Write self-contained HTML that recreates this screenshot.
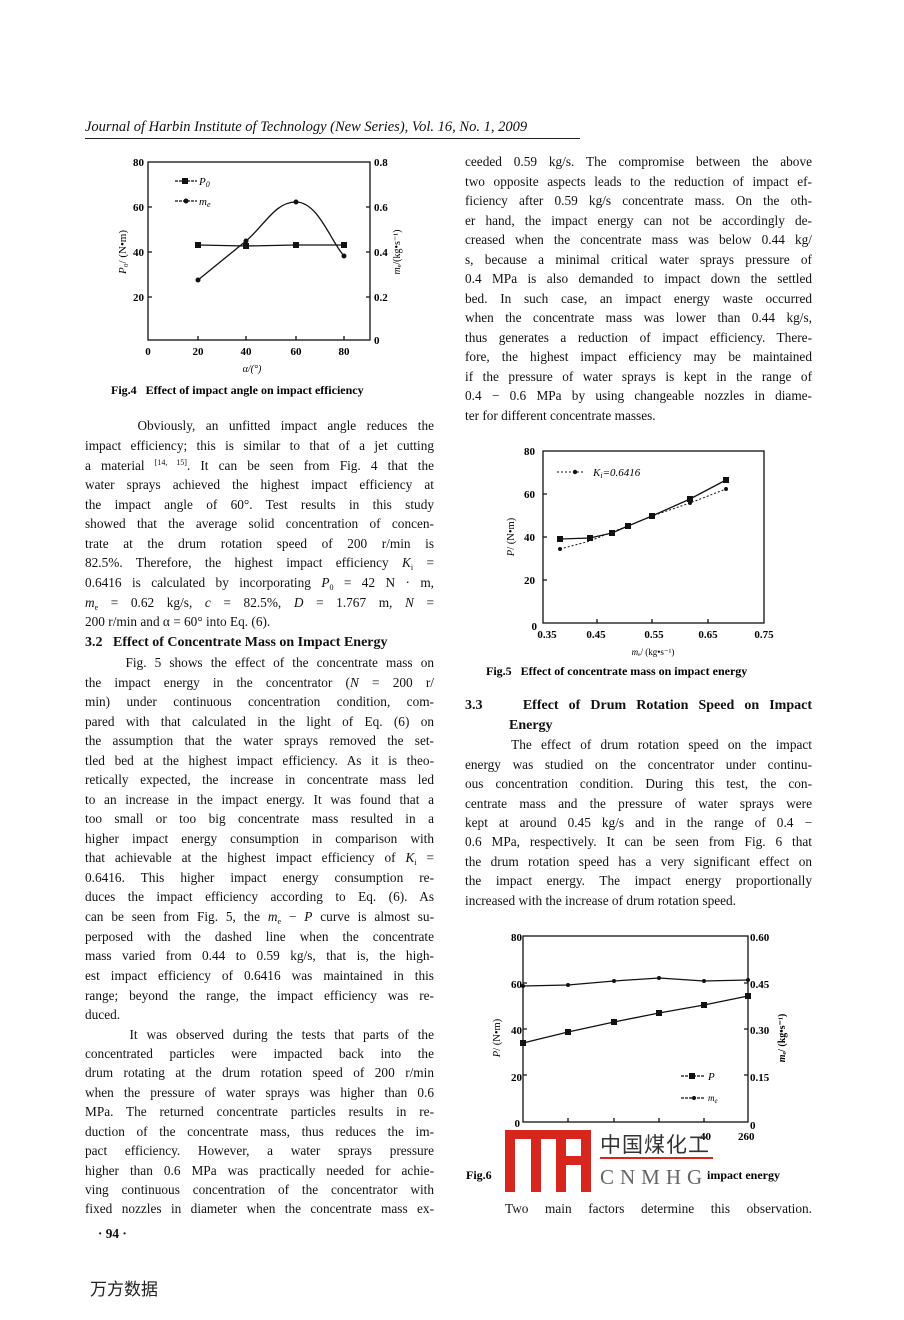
<!DOCTYPE html>
<html><head><meta charset="utf-8"><style>
body{margin:0;background:#fff;}
#p{position:relative;width:904px;height:1320px;overflow:hidden;background:#fff;font-family:"Liberation Serif",serif;color:#111;}
.l{position:absolute;font-size:13.3px;line-height:16px;height:16px;white-space:nowrap;text-align:justify;text-align-last:justify;}
.l sup,.l sub{line-height:0;vertical-align:baseline;position:relative;font-size:8px}
.l sup{top:-5px}
.l sub{top:3px}
.L{left:85px;width:349px}
.R{left:465px;width:347px}
.n{text-align-last:left}
.h{font-weight:bold;font-size:14px}
svg text{font-family:"Liberation Serif",serif;}
</style></head><body><div id="p">
<div style="position:absolute;left:85px;top:119px;font-style:italic;font-size:14.5px;">Journal of Harbin Institute of Technology (New Series), Vol. 16, No. 1, 2009</div>
<div style="position:absolute;left:85px;top:138px;width:495px;border-top:1px solid #222"></div>

<svg style="position:absolute;left:0;top:0" width="904" height="1320">
<!-- Fig 4 -->
<g stroke="#111" fill="none" stroke-width="1.3">
<rect x="148" y="162" width="222" height="178"/>
<path d="M148 207h4M148 252h4M148 297h4M370 207h-4M370 252h-4M370 297h-4M198 340v-4M246 340v-4M296 340v-4M344 340v-4"/>
<polyline points="198,245 246,246 296,245 344,245"/>
<path d="M198,280 C220,262 235,250 246,241 C265,225 275,202 296,202 C318,202 330,240 344,256"/>
<path d="M175 181h22M175 201h22" stroke-dasharray="3 1"/>
</g>
<g fill="#111"><rect x="195" y="242" width="6" height="6"/><rect x="243" y="243" width="6" height="6"/><rect x="293" y="242" width="6" height="6"/><rect x="341" y="242" width="6" height="6"/><rect x="182" y="178" width="6" height="6"/>
<circle cx="198" cy="280" r="2.5"/><circle cx="246" cy="241" r="2.5"/><circle cx="296" cy="202" r="2.5"/><circle cx="344" cy="256" r="2.5"/><circle cx="186" cy="201" r="2.5"/></g>
<g font-size="11" font-weight="bold" text-anchor="end"><text x="144" y="166">80</text><text x="144" y="211">60</text><text x="144" y="256">40</text><text x="144" y="301">20</text></g>
<g font-size="11" font-weight="bold"><text x="374" y="166">0.8</text><text x="374" y="211">0.6</text><text x="374" y="256">0.4</text><text x="374" y="301">0.2</text><text x="374" y="344">0</text></g>
<g font-size="11" font-weight="bold" text-anchor="middle"><text x="148" y="355">0</text><text x="198" y="355">20</text><text x="246" y="355">40</text><text x="296" y="355">60</text><text x="344" y="355">80</text></g>
<text x="252" y="372" font-size="10" font-style="italic" text-anchor="middle">α/(°)</text>
<text x="199" y="185" font-size="11" font-style="italic">P<tspan font-size="8" dy="2">0</tspan></text>
<text x="199" y="205" font-size="11" font-style="italic">m<tspan font-size="8" dy="2">e</tspan></text>
<text transform="translate(126,252) rotate(-90)" font-size="11" text-anchor="middle"><tspan font-style="italic">P</tspan>₀/ (N•m)</text>
<text transform="translate(400,252) rotate(-90)" font-size="10" text-anchor="middle"><tspan font-style="italic">m</tspan>ₑ/(kg•s⁻¹)</text>
<text x="111" y="394" font-size="12" font-weight="bold">Fig.4&#160;&#160; Effect of impact angle on impact efficiency</text>

<!-- Fig 5 -->
<g stroke="#111" fill="none" stroke-width="1.3">
<rect x="543" y="451" width="221" height="172"/>
<path d="M543 494h4M543 537h4M543 580h4M597 623v-4M652 623v-4M708 623v-4"/>
<polyline points="560,539 590,538 612,533 628,526 652,516 690,499 726,480"/>
<polyline points="560,549 590,541 612,532 628,526 652,516 690,503 726,489" stroke-dasharray="2 2" stroke-width="1"/>
<path d="M557 472h28" stroke-dasharray="2 2" stroke-width="1"/>
</g>
<g fill="#111"><rect x="557" y="536" width="6" height="6"/><rect x="587" y="535" width="6" height="6"/><rect x="609" y="530" width="6" height="6"/><rect x="625" y="523" width="6" height="6"/><rect x="649" y="513" width="6" height="6"/><rect x="687" y="496" width="6" height="6"/><rect x="723" y="477" width="6" height="6"/>
<circle cx="560" cy="549" r="2"/><circle cx="726" cy="489" r="2"/><circle cx="690" cy="503" r="2"/><circle cx="575" cy="472" r="2.2"/></g>
<text x="593" y="476" font-size="11" font-style="italic">K<tspan font-size="8" dy="2">i</tspan><tspan dy="-2">=0.6416</tspan></text>
<g font-size="11" font-weight="bold" text-anchor="end"><text x="535" y="455">80</text><text x="535" y="498">60</text><text x="535" y="541">40</text><text x="535" y="584">20</text><text x="537" y="630">0</text></g>
<g font-size="11" font-weight="bold" text-anchor="middle"><text x="547" y="638">0.35</text><text x="596" y="638">0.45</text><text x="654" y="638">0.55</text><text x="708" y="638">0.65</text><text x="764" y="638">0.75</text></g>
<text x="653" y="655" font-size="9" text-anchor="middle"><tspan font-style="italic">m</tspan>ₑ/ (kg•s⁻¹)</text>
<text transform="translate(514,537) rotate(-90)" font-size="10.5" text-anchor="middle"><tspan font-style="italic">P</tspan>/ (N•m)</text>
<text x="486" y="675" font-size="12" font-weight="bold">Fig.5&#160;&#160; Effect of concentrate mass on impact energy</text>

<!-- Fig 6 -->
<g stroke="#111" fill="none" stroke-width="1.3">
<rect x="523" y="936" width="225" height="186"/>
<path d="M523 983h4M523 1029h4M523 1075h4M748 983h-4M748 1029h-4M748 1075h-4M568 1122v-4M614 1122v-4M659 1122v-4M704 1122v-4"/>
<polyline points="523,1043 568,1032 614,1022 659,1013 704,1005 748,996"/>
<polyline points="523,986 568,985 614,981 659,978 704,981 748,980"/>
<path d="M681 1076h24M681 1098h24" stroke-dasharray="3 1"/>
</g>
<g fill="#111"><rect x="520" y="1040" width="6" height="6"/><rect x="565" y="1029" width="6" height="6"/><rect x="611" y="1019" width="6" height="6"/><rect x="656" y="1010" width="6" height="6"/><rect x="701" y="1002" width="6" height="6"/><rect x="745" y="993" width="6" height="6"/><rect x="689" y="1073" width="6" height="6"/>
<circle cx="523" cy="986" r="2"/><circle cx="568" cy="985" r="2"/><circle cx="614" cy="981" r="2"/><circle cx="659" cy="978" r="2"/><circle cx="704" cy="981" r="2"/><circle cx="748" cy="980" r="2"/><circle cx="694" cy="1098" r="2"/></g>
<text x="708" y="1080" font-size="11" font-style="italic">P</text>
<text x="708" y="1101" font-size="9" font-style="italic">m<tspan font-size="7" dy="2">e</tspan></text>
<g font-size="11" font-weight="bold" text-anchor="end"><text x="522" y="941">80</text><text x="522" y="988">60</text><text x="522" y="1034">40</text><text x="522" y="1081">20</text><text x="520" y="1127">0</text></g>
<g font-size="11" font-weight="bold"><text x="750" y="941">0.60</text><text x="750" y="988">0.45</text><text x="750" y="1034">0.30</text><text x="750" y="1081">0.15</text><text x="750" y="1129">0</text><text x="700" y="1140">40</text><text x="738" y="1140">260</text></g>
<text transform="translate(500,1038) rotate(-90)" font-size="10.5" text-anchor="middle"><tspan font-style="italic">P</tspan>/ (N•m)</text>
<text transform="translate(785,1038) rotate(-90)" font-size="10" text-anchor="middle" font-weight="bold"><tspan font-style="italic">m</tspan>ₑ/ (kg•s⁻¹)</text>
<text x="466" y="1179" font-size="12" font-weight="bold">Fig.6</text>
<text x="707" y="1179" font-size="12" font-weight="bold">impact energy</text>
<!-- watermark -->
<g fill="#d7261e"><rect x="505" y="1130" width="86" height="9"/><rect x="505" y="1130" width="10" height="62"/><rect x="531" y="1130" width="10" height="62"/><rect x="556" y="1130" width="10" height="62"/><rect x="581" y="1130" width="10" height="62"/><rect x="556" y="1156" width="35" height="9"/><rect x="600" y="1157" width="113" height="2"/></g>
<text x="600" y="1152" font-size="21" fill="#333" font-family="Noto Sans CJK SC, sans-serif" letter-spacing="1">中国煤化工</text>
<text x="600" y="1184" font-size="21" fill="#666" font-family="Liberation Sans, sans-serif" letter-spacing="6">CNMHG</text>
</svg>

<!-- left column -->
<div class="l L" style="top:418px">&#160;&#160;&#160;&#160;&#160;Obviously, an unfitted impact angle reduces the</div>
<div class="l L" style="top:438px">impact efficiency; this is similar to that of a jet cutting</div>
<div class="l L" style="top:458px">a material <sup>[14, 15]</sup>. It can be seen from Fig. 4 that the</div>
<div class="l L" style="top:477px">water sprays achieved the highest impact efficiency at</div>
<div class="l L" style="top:497px">the impact angle of 60°. Test results in this study</div>
<div class="l L" style="top:516px">showed that the average solid concentration of concen-</div>
<div class="l L" style="top:536px">trate at the drum rotation speed of 200 r/min is</div>
<div class="l L" style="top:555px">82.5%. Therefore, the highest impact efficiency <i>K</i><sub>i</sub> =</div>
<div class="l L" style="top:575px">0.6416 is calculated by incorporating <i>P</i><sub>0</sub> = 42 N · m,</div>
<div class="l L" style="top:595px"><i>m</i><sub>e</sub> = 0.62 kg/s, <i>c</i> = 82.5%, <i>D</i> = 1.767 m, <i>N</i> =</div>
<div class="l L n" style="top:614px">200 r/min and α = 60° into Eq. (6).</div>
<div class="l L n h" style="top:635px">3.2&#160;&#160; Effect of Concentrate Mass on Impact Energy</div>
<div class="l L" style="top:655px">&#160;&#160;&#160;&#160;&#160;Fig. 5 shows the effect of the concentrate mass on</div>
<div class="l L" style="top:675px">the impact energy in the concentrator (<i>N</i> = 200 r/</div>
<div class="l L" style="top:694px">min) under continuous concentration condition, com-</div>
<div class="l L" style="top:714px">pared with that calculated in the light of Eq. (6) on</div>
<div class="l L" style="top:733px">the assumption that the water sprays removed the set-</div>
<div class="l L" style="top:753px">tled bed at the highest impact efficiency. As it is theo-</div>
<div class="l L" style="top:772px">retically expected, the increase in concentrate mass led</div>
<div class="l L" style="top:792px">to an increase in the impact energy. It was found that a</div>
<div class="l L" style="top:811px">too small or too big concentrate mass resulted in a</div>
<div class="l L" style="top:831px">higher impact energy consumption in comparison with</div>
<div class="l L" style="top:850px">that achievable at the highest impact efficiency of <i>K</i><sub>i</sub> =</div>
<div class="l L" style="top:870px">0.6416. This higher impact energy consumption re-</div>
<div class="l L" style="top:889px">duces the impact efficiency according to Eq. (6). As</div>
<div class="l L" style="top:909px">can be seen from Fig. 5, the <i>m</i><sub>e</sub> − <i>P</i> curve is almost su-</div>
<div class="l L" style="top:929px">perposed with the dashed line when the concentrate</div>
<div class="l L" style="top:948px">mass varied from 0.44 to 0.59 kg/s, that is, the high-</div>
<div class="l L" style="top:968px">est impact efficiency of 0.6416 was maintained in this</div>
<div class="l L" style="top:988px">range; beyond the range, the impact efficiency was re-</div>
<div class="l L n" style="top:1007px">duced.</div>
<div class="l L" style="top:1027px">&#160;&#160;&#160;&#160;&#160;It was observed during the tests that parts of the</div>
<div class="l L" style="top:1046px">concentrated particles were impacted back into the</div>
<div class="l L" style="top:1065px">drum rotating at the drum rotation speed of 200 r/min</div>
<div class="l L" style="top:1085px">when the pressure of water sprays was higher than 0.6</div>
<div class="l L" style="top:1104px">MPa. The returned concentrate particles results in re-</div>
<div class="l L" style="top:1124px">duction of the concentrate mass, thus reduces the im-</div>
<div class="l L" style="top:1143px">pact efficiency. However, a water sprays pressure</div>
<div class="l L" style="top:1163px">higher than 0.6 MPa was practically needed for achie-</div>
<div class="l L" style="top:1182px">ving continuous concentration of the concentrator with</div>
<div class="l L" style="top:1201px">fixed nozzles in diameter when the concentrate mass ex-</div>
<div class="l n" style="left:98px;top:1226px;font-weight:bold">· 94 ·</div>
<div style="position:absolute;left:90px;top:1275px;font-size:17px;font-family:'Noto Sans CJK SC',sans-serif;color:#222">万方数据</div>

<!-- right column -->
<div class="l R" style="top:154px">ceeded 0.59 kg/s. The compromise between the above</div>
<div class="l R" style="top:174px">two opposite aspects leads to the reduction of impact ef-</div>
<div class="l R" style="top:193px">ficiency after 0.59 kg/s concentrate mass. On the oth-</div>
<div class="l R" style="top:213px">er hand, the impact energy can not be accordingly de-</div>
<div class="l R" style="top:232px">creased when the concentrate mass was below 0.44 kg/</div>
<div class="l R" style="top:252px">s, because a minimal critical water sprays pressure of</div>
<div class="l R" style="top:271px">0.4 MPa is also demanded to impact down the settled</div>
<div class="l R" style="top:291px">bed. In such case, an impact energy waste occurred</div>
<div class="l R" style="top:310px">when the concentrate mass was lower than 0.44 kg/s,</div>
<div class="l R" style="top:330px">thus generates a reduction of impact efficiency. There-</div>
<div class="l R" style="top:349px">fore, the highest impact efficiency may be maintained</div>
<div class="l R" style="top:369px">if the pressure of water sprays is kept in the range of</div>
<div class="l R" style="top:388px">0.4 − 0.6 MPa by using changeable nozzles in diame-</div>
<div class="l R n" style="top:408px">ter for different concentrate masses.</div>
<div class="l R h" style="top:698px">3.3&#160;&#160;&#160; Effect of Drum Rotation Speed on Impact</div>
<div class="l n h" style="left:509px;top:718px">Energy</div>
<div class="l R" style="top:737px">&#160;&#160;&#160;&#160;&#160;The effect of drum rotation speed on the impact</div>
<div class="l R" style="top:757px">energy was studied on the concentrator under continu-</div>
<div class="l R" style="top:776px">ous concentration condition. During this test, the con-</div>
<div class="l R" style="top:796px">centrate mass and the pressure of water sprays were</div>
<div class="l R" style="top:815px">kept at around 0.45 kg/s and in the range of 0.4 −</div>
<div class="l R" style="top:834px">0.6 MPa, respectively. It can be seen from Fig. 6 that</div>
<div class="l R" style="top:854px">the drum rotation speed has a very significant effect on</div>
<div class="l R" style="top:873px">the impact energy. The impact energy proportionally</div>
<div class="l R n" style="top:893px">increased with the increase of drum rotation speed.</div>
<div class="l" style="left:505px;width:307px;top:1201px">Two main factors determine this observation.</div>
</div></body></html>
